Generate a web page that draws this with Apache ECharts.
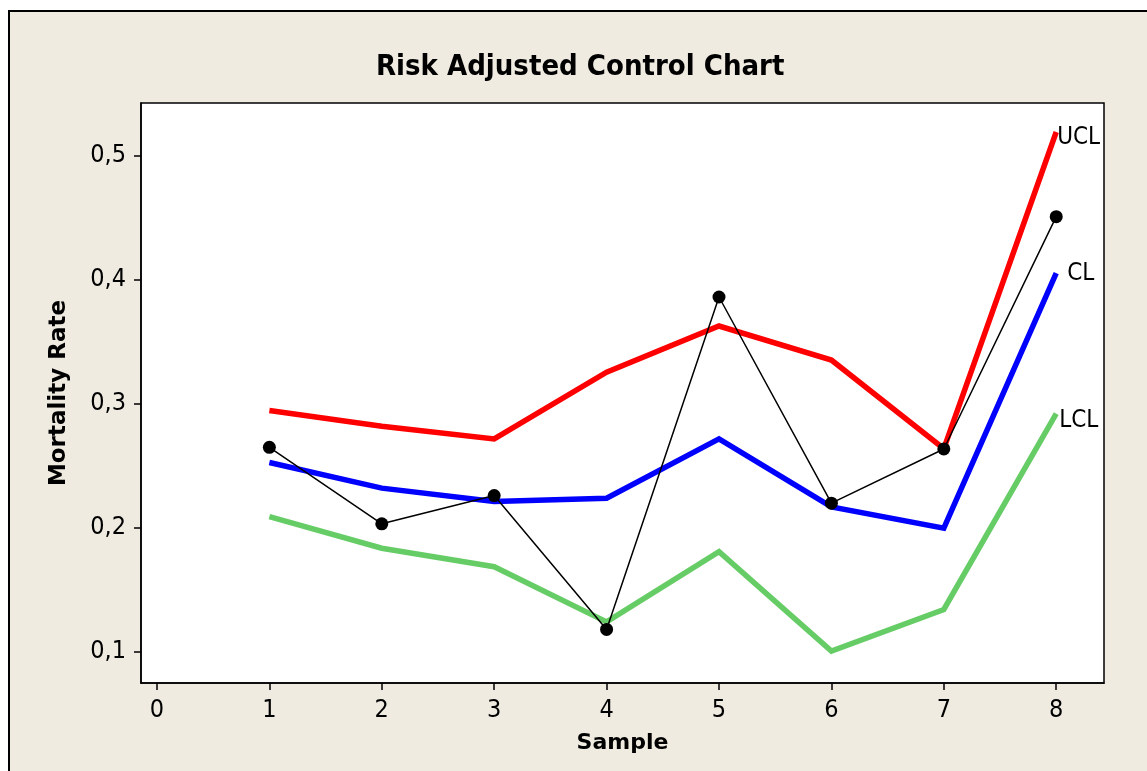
<!DOCTYPE html>
<html>
<head>
<meta charset="utf-8">
<script src="https://cdn.jsdelivr.net/npm/echarts@6/dist/echarts.min.js"></script>
<style>
html,body{margin:0;padding:0;background:#ffffff;}
#c{width:1147px;height:771px;}
</style>
</head>
<body>
<div id="c"></div>
<script>
var samples = [1, 2, 3, 4, 5, 6, 7, 8];
var observed = [0.2645, 0.2028, 0.2256, 0.1176, 0.3858, 0.2195, 0.2632, 0.4506];
var ucl = [0.2942, 0.2815, 0.2713, 0.3252, 0.3624, 0.3349, 0.2634, 0.5189];
var cl = [0.2523, 0.2316, 0.2208, 0.2235, 0.2713, 0.2165, 0.1993, 0.4050];
var lcl = [0.2087, 0.1831, 0.1682, 0.1237, 0.1803, 0.1002, 0.1337, 0.2917];
var xTicks = [0, 1, 2, 3, 4, 5, 6, 7, 8];
var yTicks = [0.1, 0.2, 0.3, 0.4, 0.5];

function pairs(arr) { return samples.map(function (s, i) { return [s, arr[i]]; }); }

var FONT = '"DejaVu Sans Condensed", "DejaVu Sans", sans-serif';
var BOLDFONT = '"DejaVu Sans", sans-serif';

function limitSeries(name, data, color, labelOffset) {
  return {
    name: name,
    type: 'line',
    data: pairs(data),
    symbol: 'none',
    lineStyle: { color: color, width: 5.5, cap: 'butt', join: 'miter' },
    itemStyle: { color: color },
    z: 2,
    endLabel: {
      show: true,
      formatter: name,
      color: '#000',
      fontFamily: FONT,
      fontSize: 24,
      distance: 0,
      offset: labelOffset
    },
    animation: false
  };
}

var chart = echarts.init(document.getElementById('c'), null, { renderer: 'canvas' });
chart.setOption({
  backgroundColor: '#ffffff',
  animation: false,
  graphic: [{
    type: 'rect',
    z: -10,
    silent: true,
    shape: { x: 9, y: 11, width: 1200, height: 800 },
    style: { fill: '#EFEBE0', stroke: '#000', lineWidth: 2 }
  }],
  title: {
    text: 'Risk Adjusted Control Chart',
    left: 371,
    top: 48,
    textStyle: { fontFamily: FONT, fontWeight: 'bold', fontSize: 29, color: '#000' }
  },
  grid: {
    left: 141, top: 103, right: 43, bottom: 88,
    show: true, backgroundColor: '#ffffff', borderColor: '#000', borderWidth: 1.5,
    containLabel: false
  },
  xAxis: {
    type: 'value',
    min: -0.142, max: 8.425,
    name: 'Sample',
    nameLocation: 'middle',
    nameGap: 49,
    nameTextStyle: { fontFamily: BOLDFONT, fontWeight: 'bold', fontSize: 22, color: '#000' },
    axisLine: { show: true, onZero: false, lineStyle: { color: '#000', width: 1.5 } },
    axisTick: { show: true, inside: false, length: 7, lineStyle: { color: '#000', width: 1.5 }, customValues: xTicks },
    axisLabel: { show: true, color: '#000', fontFamily: FONT, fontSize: 25, margin: 15, customValues: xTicks },
    splitLine: { show: false }
  },
  yAxis: {
    type: 'value',
    min: 0.0744, max: 0.5423,
    name: 'Mortality Rate',
    nameLocation: 'middle',
    nameGap: 70,
    nameRotate: 90,
    nameTextStyle: { fontFamily: BOLDFONT, fontWeight: 'bold', fontSize: 23, color: '#000' },
    axisLine: { show: true, onZero: false, lineStyle: { color: '#000', width: 1.5 } },
    axisTick: { show: true, inside: false, length: 7, lineStyle: { color: '#000', width: 1.5 }, customValues: yTicks },
    axisLabel: {
      show: true, color: '#000', fontFamily: FONT, fontSize: 25, margin: 15, customValues: yTicks,
      formatter: function (v) { return v.toFixed(1).replace('.', ','); }
    },
    splitLine: { show: false }
  },
  series: [
    limitSeries('UCL', ucl, '#FF0000', [1, 6]),
    limitSeries('CL', cl, '#0000FF', [11, 1]),
    limitSeries('LCL', lcl, '#66CC66', [3, 7]),
    {
      name: 'Observed',
      type: 'line',
      data: pairs(observed),
      symbol: 'circle',
      symbolSize: 13,
      showAllSymbol: true,
      lineStyle: { color: '#000', width: 1.5 },
      itemStyle: { color: '#000' },
      z: 5,
      animation: false
    }
  ]
});
</script>
</body>
</html>
